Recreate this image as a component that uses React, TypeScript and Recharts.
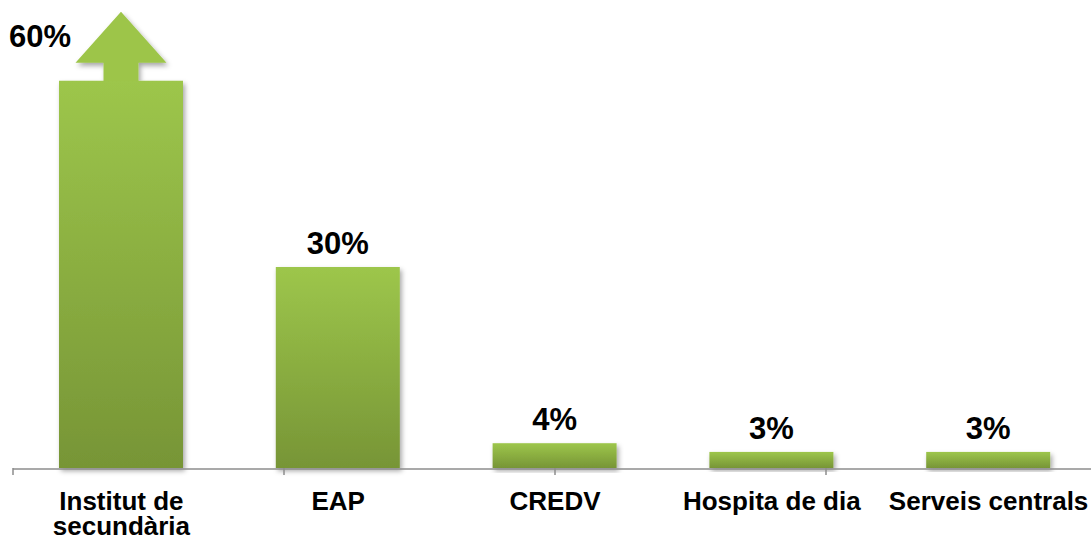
import React from 'react';
import { BarChart, Bar, XAxis, YAxis, LabelList } from 'recharts';

const categories = ['Institut de\nsecundària', 'EAP', 'CREDV', 'Hospita de dia', 'Serveis centrals'];
const values = [57.8, 30, 3.7, 2.4, 2.4];
const valueLabels = ['60%', '30%', '4%', '3%', '3%'];
const boundaryTicks = [0, 1, 2, 3, 4, 5];

const data = categories.map((name, i) => ({ name, value: values[i], label: valueLabels[i] }));

const FONT = '"Liberation Sans", Arial, Helvetica, sans-serif';
const AXIS_COLOR = '#8c8c8c';

const BarShape = (props: any) => {
  const { x, y, width, height, index } = props;
  const cx = x + width / 2;
  const arrow =
    `M ${cx - 17.5} ${y + 1} L ${cx - 17.5} ${y - 18} L ${cx - 45.5} ${y - 18} L ${cx} ${y - 69} ` +
    `L ${cx + 45.5} ${y - 18} L ${cx + 17.5} ${y - 18} L ${cx + 17.5} ${y + 1} Z`;
  return (
    <g filter="url(#barShadow)">
      {index === 0 && <path d={arrow} fill="#9dc54a" />}
      <rect x={x} y={y} width={width} height={height} fill="url(#barGrad)" />
    </g>
  );
};

const ValueLabel = (props: any) => {
  const { x, y, width, value, index } = props;
  const isFirst = index === 0;
  const tx = isFirst ? x - 19 : x + width / 2;
  const ty = isFirst ? y - 34 : y - 13;
  return (
    <text
      x={tx}
      y={ty}
      textAnchor="middle"
      fill="#000"
      style={{ fontSize: 31, fontWeight: 700, fontFamily: FONT }}
    >
      {value}
    </text>
  );
};

const CatTick = (props: any) => {
  const { x, y, payload } = props;
  const lines = String(payload.value).split('\n');
  return (
    <text
      x={x}
      y={y + 41}
      textAnchor="middle"
      fill="#000"
      style={{ fontSize: 26, fontWeight: 700, fontFamily: FONT }}
    >
      {lines.map((l, i) => (
        <tspan key={i} x={x} dy={i === 0 ? 0 : 25}>
          {l}
        </tspan>
      ))}
    </text>
  );
};

const EmptyTick = () => <g />;

export default function App() {
  return (
    <div
      style={{
        position: 'absolute',
        left: 0,
        top: 0,
        width: 1091,
        height: 542,
        overflow: 'hidden',
        background: '#fff',
      }}
    >
      <BarChart
        width={1100}
        height={542}
        data={data}
        margin={{ top: 66, right: 3, left: 13, bottom: 0 }}
        barSize={124}
      >
        <defs>
          <linearGradient id="barGrad" x1="0" y1="0" x2="0" y2="1">
            <stop offset="0%" stopColor="#9dc64b" />
            <stop offset="100%" stopColor="#779536" />
          </linearGradient>
          <filter id="barShadow" x="-20%" y="-20%" width="140%" height="140%">
            <feDropShadow dx="2" dy="3" stdDeviation="2.5" floodColor="#000" floodOpacity="0.35" />
          </filter>
        </defs>
        <XAxis
          xAxisId="a"
          type="category"
          scale="point"
          domain={boundaryTicks}
          ticks={boundaryTicks}
          interval={0}
          axisLine={false}
          tickLine={{ stroke: AXIS_COLOR, strokeWidth: 1.5 }}
          tick={<EmptyTick />}
          tickSize={7}
          height={1}
        />
        <XAxis
          xAxisId="b"
          dataKey="name"
          interval={0}
          axisLine={{ stroke: AXIS_COLOR, strokeWidth: 1.5 }}
          tickLine={false}
          tickSize={0}
          tickMargin={0}
          height={73}
          tick={<CatTick />}
        />
        <YAxis hide domain={[0, 60]} />
        <Bar
          xAxisId="b"
          dataKey="value"
          isAnimationActive={false}
          shape={<BarShape />}
        >
          <LabelList dataKey="label" content={<ValueLabel />} />
        </Bar>
      </BarChart>
    </div>
  );
}
